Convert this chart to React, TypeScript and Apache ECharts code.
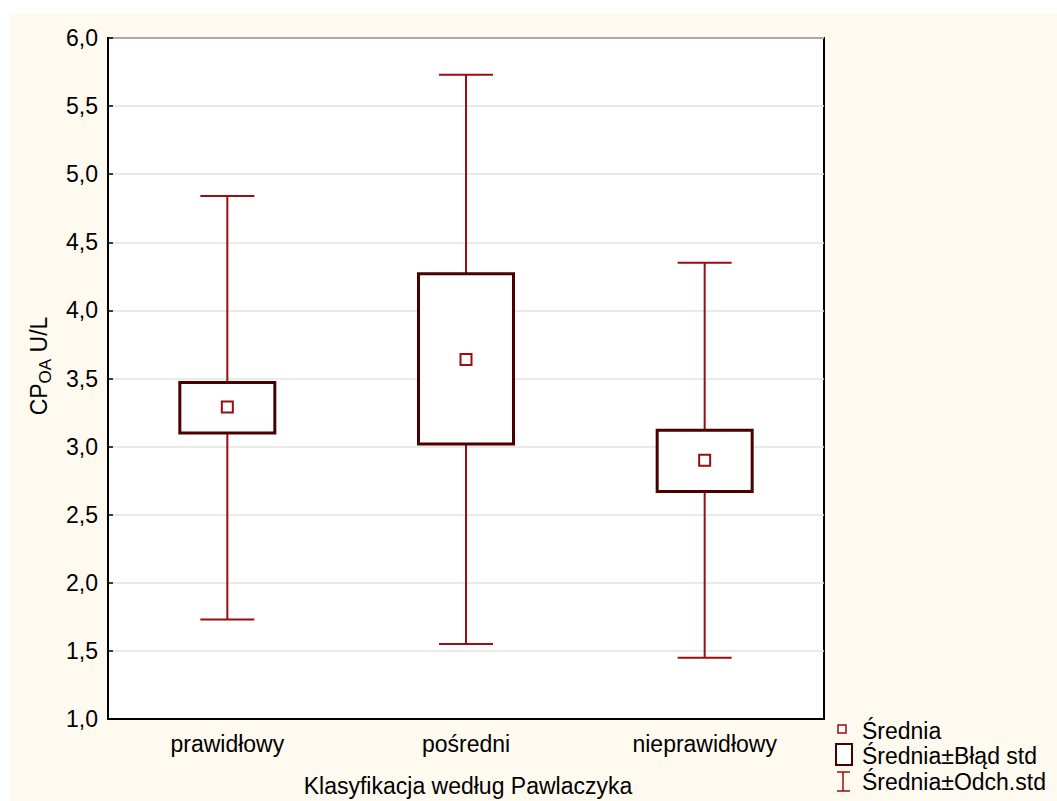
import React, { useEffect, useRef } from "react";
import * as echarts from "echarts";

const categories = ["prawidłowy", "pośredni", "nieprawidłowy"];
const means = [3.29, 3.64, 2.9];
const seLow = [3.1, 3.02, 2.67];
const seHigh = [3.47, 4.27, 3.12];
const sdLow = [1.73, 1.55, 1.45];
const sdHigh = [4.84, 5.73, 4.35];
const yTicks = [1, 1.5, 2, 2.5, 3, 3.5, 4, 4.5, 5, 5.5, 6];

const legendItems = ["Średnia", "Średnia±Błąd std", "Średnia±Odch.std"];

const FONT = "'Liberation Sans', Arial, sans-serif";
const FS = 23;
const WHISKER = "#9a0d10";
const BOX = "#4a0000";

export default function App() {
  const ref = useRef<HTMLDivElement>(null);
  useEffect(() => {
    if (!ref.current) return;
    const chart = echarts.init(ref.current, undefined, { renderer: "svg" });
    const data = categories.map((_, i) => [i, means[i], seLow[i], seHigh[i], sdLow[i], sdHigh[i]]);
    const option: any = {
      animation: false,
      backgroundColor: "#ffffff",
      grid: {
        left: 108,
        top: 38,
        right: 233,
        bottom: 82,
        show: true,
        backgroundColor: "#ffffff",
        borderColor: "#000000",
        borderWidth: 2,
      },
      xAxis: {
        type: "category",
        data: categories,
        boundaryGap: true,
        axisLine: { show: true, lineStyle: { color: "#000", width: 2 } },
        axisTick: { show: false },
        axisLabel: { color: "#000", fontSize: FS, fontFamily: FONT, margin: 13 },
        splitLine: { show: false },
      },
      yAxis: {
        type: "value",
        min: yTicks[0],
        max: yTicks[yTicks.length - 1],
        interval: 0.5,
        axisLine: { show: true, lineStyle: { color: "#000", width: 2 } },
        axisTick: { show: true, inside: true, length: 5, lineStyle: { color: "#000", width: 1.5 } },
        axisLabel: {
          color: "#000",
          fontSize: FS,
          fontFamily: FONT,
          margin: 10,
          formatter: (v: number) => v.toFixed(1).replace(".", ","),
        },
        splitLine: { show: true, lineStyle: { color: "#e3e3e3", width: 1.5 } },
      },
      series: [
        {
          type: "custom",
          data,
          encode: { x: 0, y: [1, 2, 3, 4, 5] },
          renderItem: (params: any, api: any) => {
            const idx = api.value(0);
            const pMean = api.coord([idx, api.value(1)]);
            const pSeLo = api.coord([idx, api.value(2)]);
            const pSeHi = api.coord([idx, api.value(3)]);
            const pSdLo = api.coord([idx, api.value(4)]);
            const pSdHi = api.coord([idx, api.value(5)]);
            const cx = pMean[0];
            const boxW = 95;
            const capW = 54;
            const m = 11;
            return {
              type: "group",
              children: [
                { type: "line", shape: { x1: cx, y1: pSdHi[1], x2: cx, y2: pSeHi[1] }, style: { stroke: WHISKER, lineWidth: 2 } },
                { type: "line", shape: { x1: cx, y1: pSeLo[1], x2: cx, y2: pSdLo[1] }, style: { stroke: WHISKER, lineWidth: 2 } },
                { type: "line", shape: { x1: cx - capW / 2, y1: pSdHi[1], x2: cx + capW / 2, y2: pSdHi[1] }, style: { stroke: WHISKER, lineWidth: 2 } },
                { type: "line", shape: { x1: cx - capW / 2, y1: pSdLo[1], x2: cx + capW / 2, y2: pSdLo[1] }, style: { stroke: WHISKER, lineWidth: 2 } },
                {
                  type: "rect",
                  shape: { x: cx - boxW / 2, y: pSeHi[1], width: boxW, height: pSeLo[1] - pSeHi[1] },
                  style: { fill: "#ffffff", stroke: BOX, lineWidth: 3 },
                },
                {
                  type: "rect",
                  shape: { x: cx - m / 2, y: pMean[1] - m / 2, width: m, height: m },
                  style: { fill: "#ffffff", stroke: WHISKER, lineWidth: 2 },
                },
              ],
            };
          },
        },
      ],
      graphic: [
        { type: "rect", z: -100, silent: true, shape: { x: 9, y: 13, width: 1048, height: 788 }, style: { fill: "#fefaf0" } },
        {
          type: "text",
          x: 468,
          y: 786,
          style: { text: "Klasyfikacja według Pawlaczyka", fontSize: FS, fontFamily: FONT, fill: "#000", align: "center", verticalAlign: "middle" },
        },
        {
          type: "text",
          x: 36,
          y: 366,
          rotation: Math.PI / 2,
          style: {
            text: "{a|CP}{b|OA}{a| U/L}",
            align: "center",
            verticalAlign: "middle",
            rich: {
              a: { fontSize: FS, fontFamily: FONT, fill: "#000", color: "#000", lineHeight: 28, verticalAlign: "bottom" },
              b: { fontSize: 17, fontFamily: FONT, fill: "#000", color: "#000", lineHeight: 28, verticalAlign: "bottom", padding: [0, 0, -4, 0] },
            },
          },
        },
        // legend: mean marker
        { type: "rect", shape: { x: 838, y: 725, width: 8, height: 8 }, style: { fill: "#fff", stroke: WHISKER, lineWidth: 1.5 } },
        { type: "text", x: 862, y: 731, style: { text: legendItems[0], fontSize: FS, fontFamily: FONT, fill: "#000", verticalAlign: "middle" } },
        // legend: box
        { type: "rect", shape: { x: 836, y: 744, width: 16, height: 21 }, style: { fill: "#fff", stroke: BOX, lineWidth: 2 } },
        { type: "text", x: 862, y: 756, style: { text: legendItems[1], fontSize: FS, fontFamily: FONT, fill: "#000", verticalAlign: "middle" } },
        // legend: whisker
        { type: "line", shape: { x1: 843, y1: 772, x2: 843, y2: 791 }, style: { stroke: WHISKER, lineWidth: 1.5 } },
        { type: "line", shape: { x1: 837, y1: 772, x2: 850, y2: 772 }, style: { stroke: WHISKER, lineWidth: 1.5 } },
        { type: "line", shape: { x1: 837, y1: 791, x2: 850, y2: 791 }, style: { stroke: WHISKER, lineWidth: 1.5 } },
        { type: "text", x: 862, y: 782, style: { text: legendItems[2], fontSize: FS, fontFamily: FONT, fill: "#000", verticalAlign: "middle" } },
      ],
    };
    chart.setOption(option);
    return () => chart.dispose();
  }, []);
  return <div ref={ref} style={{ position: "absolute", left: 0, top: 0, width: 1057, height: 801 }} />;
}
